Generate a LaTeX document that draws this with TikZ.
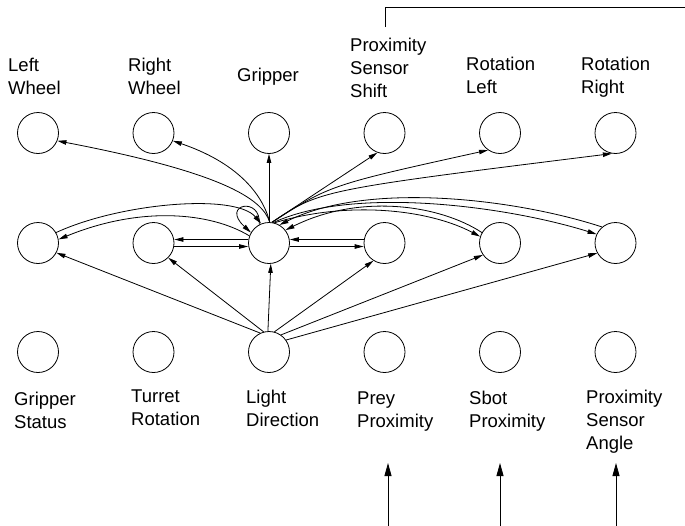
\documentclass[tikz,border=0pt]{standalone}
\usepackage{fontspec}
\setmainfont{Liberation Sans}
\usetikzlibrary{arrows.meta}
\begin{document}
\begin{tikzpicture}[x=1pt,y=-1pt,
  unit/.style={circle,draw,line width=0.8pt,minimum size=41pt,inner sep=0pt},
  lbl/.style={anchor=north west,align=left,inner sep=0pt,font=\fontsize{18.5}{23}\selectfont},
  link/.style={line width=0.8pt,-{Triangle[length=9pt,width=4.5pt]}},
  feed/.style={line width=0.8pt,-{Triangle[length=13pt,width=7pt]}},
  wire/.style={line width=0.8pt}]
\useasboundingbox (0,0) rectangle (685,525);

% output units
\node[unit] (t1) at (38,133) {};
\node[unit] (t2) at (153.5,133) {};
\node[unit] (t3) at (269,133) {};
\node[unit] (t4) at (384.5,133) {};
\node[unit] (t5) at (500,133) {};
\node[unit] (t6) at (615.5,133) {};
% hidden units
\node[unit] (m1) at (38,243) {};
\node[unit] (m2) at (153.5,243) {};
\node[unit] (m3) at (269,243) {};
\node[unit] (m4) at (384.5,243) {};
\node[unit] (m5) at (500,243) {};
\node[unit] (m6) at (615.5,243) {};
% input units
\node[unit] (b1) at (38,352) {};
\node[unit] (b2) at (153.5,352) {};
\node[unit] (b3) at (269,352) {};
\node[unit] (b4) at (384.5,352) {};
\node[unit] (b5) at (500,352) {};
\node[unit] (b6) at (615.5,352) {};

% labels
\node[lbl] (lt1) at (8,58) {Left\\Wheel};
\node[lbl] (lt2) at (128,58) {Right\\Wheel};
\node[lbl] (lt3) at (237,68) {Gripper};
\node[lbl] (lt4) at (350,38) {Proximity\\Sensor\\Shift};
\node[lbl] (lt5) at (466,57) {Rotation\\Left};
\node[lbl] (lt6) at (581,57) {Rotation\\Right};
\node[lbl] (lb1) at (14,392) {Gripper\\Status};
\node[lbl] (lb2) at (131,390) {Turret\\Rotation};
\node[lbl] (lb3) at (246,390) {Light\\Direction};
\node[lbl] (lb4) at (357,392) {Prey\\Proximity};
\node[lbl] (lb5) at (469,391) {Sbot\\Proximity};
\node[lbl] (lb6) at (586,390) {Proximity\\Sensor\\Angle};

% hub unit to the outputs
\draw[link] (m3.88) .. controls (262,198) and (220,172) .. (t1.-22);
\draw[link] (m3.88) .. controls (262,192) and (235,162) .. (t2.-22);
\draw[link] (m3) -- (t3);
\draw[link] (m3.82) -- (t4.250);
\draw[link] (m3.82) .. controls (330,185) .. (t5.235);
\draw[link] (m3.82) .. controls (320,190) .. (t6.260);

% recurrent links among hidden units
\draw[link] (m3.118) .. controls (262,196) and (220,204) .. (m3.150);
\draw[link] (m1.30) .. controls (120,203) and (235,193) .. (m3.112);
\draw[link] (m3.160) .. controls (210,212) and (140,206) .. (m1.10);
\draw[link] ([yshift=3.5pt]m3.west) -- ([yshift=3.5pt]m2.east);
\draw[link] ([yshift=-3.5pt]m2.east) -- ([yshift=-3.5pt]m3.west);
\draw[link] ([yshift=3.5pt]m4.west) -- ([yshift=3.5pt]m3.east);
\draw[link] ([yshift=-3.5pt]m3.east) -- ([yshift=-3.5pt]m4.west);
\draw[link] (m6.130) .. controls (520,200) and (370,180) .. (m3.60);
\draw[link] (m3.78) .. controls (355,185) and (510,207) .. (m6.155);
\draw[link] (m5.150) .. controls (440,205) and (360,193) .. (m3.38);
\draw[link] (m3.75) .. controls (350,200) and (430,210) .. (m5.162);

% light direction to the hidden units
\draw[link] (b3.115) -- (m1.-28);
\draw[link] (b3.105) -- (m2.-45);
\draw[link] (b3.93) -- (m3.-85);
\draw[link] (b3.75) -- (m4.238);
\draw[link] (b3.55) -- (m5.215);
\draw[link] (b3.35) -- (m6.209);

% external signals
\coordinate (outA) at (385,27);
\coordinate (outB) at (690,7);
\draw[wire] (outA) |- (outB);
\coordinate (in4) at (388,530);
\coordinate (in4tip) at (388,463);
\coordinate (in5) at (500,530);
\coordinate (in5tip) at (500,463);
\coordinate (in6) at (616,530);
\coordinate (in6tip) at (616,463);
\draw[feed] (in4) -- (in4tip);
\draw[feed] (in5) -- (in5tip);
\draw[feed] (in6) -- (in6tip);
\end{tikzpicture}
\end{document}
